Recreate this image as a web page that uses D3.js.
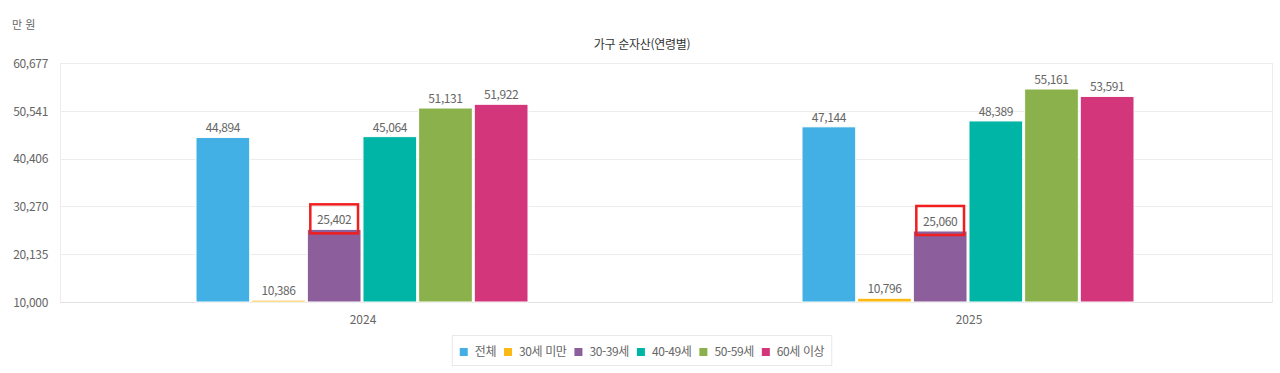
<!DOCTYPE html>
<html lang="ko">
<head>
  <meta charset="UTF-8">
  <title>가구 순자산(연령별)</title>
  <style>
    body { margin: 0; background: #fff; font-family: "Noto Sans CJK KR", "Noto Sans", sans-serif; }
    svg { display: block; }
    text { fill: #666; font-size: 12px; }
  </style>
  <script src="https://d3js.org/d3.v7.min.js"></script>
</head>
<body>
  <svg id="chart" width="1280" height="373"></svg>
  <script>
    // data
    const years = ['2024', '2025'];
    const seriesNames = ['전체', '30세 미만', '30-39세', '40-49세', '50-59세', '60세 이상'];
    const values2024 = [44894, 10386, 25402, 45064, 51131, 51922];
    const values2025 = [47144, 10796, 25060, 48389, 55161, 53591];
    const yTicks = [10000, 20135, 30270, 40406, 50541, 60677];
    const colors = ['#42b0e4', '#fdb913', '#8d5e9c', '#00b5a6', '#8ab14b', '#d3367a'];
    const highlighted = ['30-39세'];

    const rows = years.map((y, i) => ({
      year: y,
      values: (i === 0 ? values2024 : values2025).map((v, j) => ({ name: seriesNames[j], value: v }))
    }));

    const svg = d3.select('#chart');
    const margin = { left: 60, right: 8, top: 63, bottom: 72 };
    const width = 1280, height = 373;

    const x0 = d3.scaleBand().domain(years).range([margin.left, width - margin.right]);
    const groupPad = 137;
    const x1 = d3.scaleBand().domain(seriesNames)
      .range([groupPad - 1, x0.bandwidth() - groupPad - 1]).paddingInner(0.035);
    const y = d3.scaleLinear().domain([10000, 60677]).range([height - margin.bottom + 1, margin.top]);
    const color = d3.scaleOrdinal().domain(seriesNames).range(colors);
    const fmt = d3.format(',');

    // unit + title
    svg.append('text').attr('x', 12).attr('y', 29).style('font-size', '11px').text('만 원');
    svg.append('text').attr('x', 642).attr('y', 49).attr('text-anchor', 'middle')
      .style('fill', '#333').style('letter-spacing', '-0.3px').text('가구 순자산(연령별)');

    // grid
    svg.append('g')
      .selectAll('line').data(yTicks).join('line')
      .attr('x1', margin.left).attr('x2', width - margin.right)
      .attr('y1', d => Math.round(y(d)) + 0.5).attr('y2', d => Math.round(y(d)) + 0.5)
      .attr('stroke', '#ececec');
    svg.append('g').selectAll('line').data([margin.left, width - margin.right]).join('line')
      .attr('x1', d => d + 0.5).attr('x2', d => d + 0.5)
      .attr('y1', y(60677)).attr('y2', y(10000))
      .attr('stroke', '#ececec');

    // y axis
    const yAxis = svg.append('g').attr('transform', `translate(${margin.left - 12},0)`)
      .call(d3.axisLeft(y).tickValues(yTicks).tickFormat(fmt).tickSize(0));
    yAxis.select('.domain').remove();
    yAxis.selectAll('text').attr('x', 0).attr('dy', '0.35em')
      .style('font-size', '12px').style('fill', '#666').style('letter-spacing', '-0.3px')
      .style('font-family', '"Noto Sans CJK KR", sans-serif');

    // x axis
    const xAxis = svg.append('g').attr('transform', `translate(0,${y(10000)})`)
      .call(d3.axisBottom(x0).tickSize(0));
    xAxis.select('.domain').attr('stroke', '#e0e0e0');
    xAxis.selectAll('text').attr('dy', '1.6em')
      .style('font-size', '12px').style('fill', '#666').style('font-family', '"Noto Sans CJK KR", sans-serif');

    // bars
    const groups = svg.append('g').selectAll('g').data(rows).join('g')
      .attr('transform', d => `translate(${x0(d.year)},0)`);

    groups.selectAll('rect').data(d => d.values).join('rect')
      .attr('x', d => x1(d.name))
      .attr('y', d => y(d.value))
      .attr('width', x1.bandwidth())
      .attr('height', d => y(10000) - y(d.value))
      .attr('fill', d => color(d.name))
      .attr('stroke', '#fff').attr('stroke-width', 1);

    groups.selectAll('text.val').data(d => d.values).join('text')
      .attr('class', 'val')
      .attr('x', d => x1(d.name) + x1.bandwidth() / 2)
      .attr('y', d => y(d.value) - 5)
      .attr('text-anchor', 'middle')
      .style('letter-spacing', '-0.4px')
      .text(d => fmt(d.value));

    // red highlight boxes
    groups.selectAll('rect.mark').data(d => d.values.filter(v => highlighted.includes(v.name))).join('rect')
      .attr('class', 'mark')
      .attr('x', d => x1(d.name) + 3)
      .attr('y', d => y(d.value) - 25)
      .attr('width', x1.bandwidth() - 6)
      .attr('height', 29)
      .attr('fill', 'none')
      .attr('stroke', '#f01e1e').attr('stroke-width', 2.5);

    // legend
    const legend = svg.append('g');
    const legendBox = legend.append('rect').attr('fill', '#fff').attr('stroke', '#e8e8e8');
    let lx = 0;
    const gap = 8;
    const items = legend.append('g');
    seriesNames.forEach(n => {
      const it = items.append('g').attr('transform', `translate(${lx},0)`);
      it.append('rect').attr('x', 0).attr('y', -7).attr('width', 8).attr('height', 8).attr('fill', color(n));
      const t = it.append('text').attr('x', 15).attr('y', 0.5)
        .style('font-size', '12px').style('letter-spacing', '-0.4px').text(n);
      lx += 15 + t.node().getComputedTextLength() + gap;
    });
    const lw = lx - gap;
    items.attr('transform', `translate(${642 - lw / 2},355)`);
    legendBox.attr('x', 642 - lw / 2 - 7.5).attr('y', 335.5).attr('width', lw + 15).attr('height', 30);
  </script>
</body>
</html>
